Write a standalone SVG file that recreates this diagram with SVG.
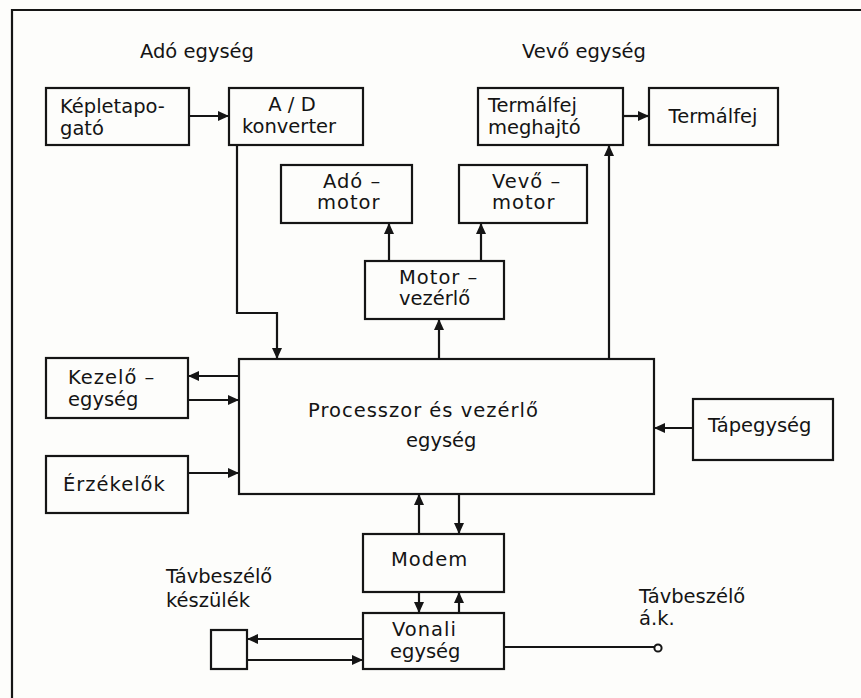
<svg xmlns="http://www.w3.org/2000/svg" width="861" height="698" viewBox="0 0 861 698">
  <style>
    .box { fill: none; stroke: #151515; stroke-width: 2.2; }
    .wire { fill: none; stroke: #151515; stroke-width: 2.2; }
    .arr { marker-end: url(#head); }
    text { font-family: "DejaVu Sans", "Liberation Sans", sans-serif; font-size: 19.5px; fill: #141414; }
    .wide { letter-spacing: 1px; }
  </style>
  <defs>
    <marker id="head" markerUnits="userSpaceOnUse" markerWidth="12" markerHeight="10" refX="11" refY="5" orient="auto">
      <path d="M0,0 L11,5 L0,10 Z" fill="#151515"/>
    </marker>
  </defs>

  <rect x="0" y="0" width="861" height="698" fill="#fdfdfb"/>

  <!-- frame edge -->
  <path class="wire" d="M12,698 V10 H861" stroke-width="2"/>

  <!-- section titles -->
  <text x="140" y="58">Adó egység</text>
  <text x="522" y="58">Vevő egység</text>

  <g id="kepletapogato">
    <rect class="box" x="46" y="88" width="143" height="57"/>
    <text x="60" y="113">Képletapo-</text>
    <text x="60" y="135">gató</text>
  </g>

  <g id="ad-konverter">
    <rect class="box" x="229" y="88" width="134" height="57"/>
    <text x="292" y="111" text-anchor="middle">A / D</text>
    <text x="289" y="133" text-anchor="middle">konverter</text>
  </g>

  <g id="termalfej-meghajto">
    <rect class="box" x="478" y="88" width="145" height="57"/>
    <text x="488" y="112">Termálfej</text>
    <text x="488" y="134">meghajtó</text>
  </g>

  <g id="termalfej">
    <rect class="box" x="649" y="88" width="129" height="57"/>
    <text x="713" y="123" text-anchor="middle">Termálfej</text>
  </g>

  <g id="ado-motor">
    <rect class="box" x="281" y="165" width="131" height="58"/>
    <text x="323" y="188" class="wide">Adó –</text>
    <text x="317" y="209" class="wide">motor</text>
  </g>

  <g id="vevo-motor">
    <rect class="box" x="459" y="165" width="128" height="58"/>
    <text x="492" y="188" class="wide">Vevő –</text>
    <text x="492" y="209" class="wide">motor</text>
  </g>

  <g id="motor-vezerlo">
    <rect class="box" x="365" y="261" width="139" height="58"/>
    <text x="399" y="284" class="wide">Motor –</text>
    <text x="399" y="305">vezérlő</text>
  </g>

  <g id="kezelo-egyseg">
    <rect class="box" x="46" y="358" width="142" height="60"/>
    <text x="68" y="384" class="wide">Kezelő –</text>
    <text x="68" y="406">egység</text>
  </g>

  <g id="erzekelok">
    <rect class="box" x="46" y="456" width="142" height="57"/>
    <text x="63" y="491" class="wide">Érzékelők</text>
  </g>

  <g id="processzor">
    <rect class="box" x="239" y="359" width="415" height="135"/>
    <text x="308" y="417" class="wide">Processzor és vezérlő</text>
    <text x="406" y="447">egység</text>
  </g>

  <g id="tapegyseg">
    <rect class="box" x="693" y="399" width="140" height="61"/>
    <text x="708" y="432">Tápegység</text>
  </g>

  <g id="modem">
    <rect class="box" x="363" y="534" width="141" height="58"/>
    <text x="391" y="566" class="wide">Modem</text>
  </g>

  <g id="vonali-egyseg">
    <rect class="box" x="363" y="613" width="141" height="56"/>
    <text x="392" y="636" class="wide">Vonali</text>
    <text x="390" y="658">egység</text>
  </g>

  <g id="tavbeszelo-keszulek">
    <rect class="box" x="211" y="630" width="36" height="39"/>
    <text x="166" y="583">Távbeszélő</text>
    <text x="166" y="607">készülék</text>
  </g>

  <g id="tavbeszelo-ak">
    <circle cx="658" cy="648" r="3.6" fill="#fdfdfb" stroke="#151515" stroke-width="2"/>
    <text x="639" y="603">Távbeszélő</text>
    <text x="639" y="625">á.k.</text>
  </g>

  <g id="connectors">
    <path class="wire arr" d="M189,116 H229"/>
    <path class="wire arr" d="M237,145 V313 H277 V359"/>
    <path class="wire arr" d="M609,359 V145"/>
    <path class="wire arr" d="M623,116 H649"/>
    <path class="wire arr" d="M439,359 V319"/>
    <path class="wire arr" d="M389,261 V223"/>
    <path class="wire arr" d="M481,261 V223"/>
    <path class="wire arr" d="M239,376 H188"/>
    <path class="wire arr" d="M188,400 H239"/>
    <path class="wire arr" d="M188,473 H239"/>
    <path class="wire arr" d="M693,428 H654"/>
    <path class="wire arr" d="M419,534 V494"/>
    <path class="wire arr" d="M459,494 V534"/>
    <path class="wire arr" d="M419,592 V613"/>
    <path class="wire arr" d="M459,613 V592"/>
    <path class="wire arr" d="M363,639 H247"/>
    <path class="wire arr" d="M247,660 H363"/>
    <path class="wire" d="M504,647 H654.5"/>
  </g>
</svg>
